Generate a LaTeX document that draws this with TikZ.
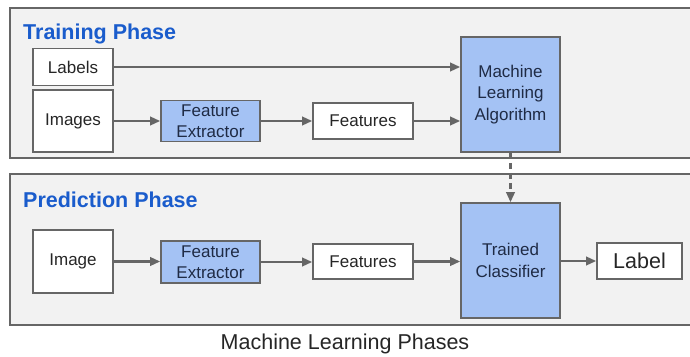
\documentclass[tikz,border=0pt]{standalone}
\usepackage{fontspec}
\setmainfont{Liberation Sans}
\usetikzlibrary{arrows.meta}
\definecolor{panelfill}{HTML}{F2F2F2}
\definecolor{edgegray}{HTML}{666666}
\definecolor{bluefill}{HTML}{A4C2F4}
\definecolor{titleblue}{HTML}{1A5CCC}
\definecolor{darktext}{HTML}{1F2B45}
\begin{document}
\begin{tikzpicture}[x=1pt,y=-1pt,
  panel/.style={draw=edgegray,fill=panelfill,line width=1.8pt},
  whitebox/.style={draw=edgegray,fill=white,line width=1.7pt,inner sep=0pt,
    font=\fontsize{17}{21.5}\selectfont,text=black!85,align=center},
  bluebox/.style={draw=edgegray,fill=bluefill,line width=1.7pt,inner sep=0pt,
    font=\fontsize{17}{21.5}\selectfont,text=darktext,align=center},
  flow/.style={draw=edgegray,line width=2.2pt,-{Triangle[length=10pt,width=8.5pt]}},
  title/.style={font=\fontsize{21.5}{25}\selectfont\bfseries,text=titleblue,anchor=west,inner sep=0pt}
]
\useasboundingbox (0,0) rectangle (690,356);
\begin{scope}
\clip (0,0) rectangle (690,356);
\draw[panel] (10,8) rectangle (700,158);
\draw[panel] (10,174) rectangle (700,325);
\end{scope}
\node[title] (ttrain) at (23,34) {Training Phase};
\node[title] (tpred) at (23,200) {Prediction Phase};

\node[whitebox,minimum width=80pt,minimum height=37pt] (labels) at (73,67) {Labels};
\node[whitebox,minimum width=80pt,minimum height=62pt] (images) at (73,121) {Images};
\node[bluebox,minimum width=99pt,minimum height=41pt] (fe1) at (210.5,121) {Feature\\Extractor};
\node[whitebox,minimum width=100pt,minimum height=36pt] (feat1) at (363,121) {Features};
\node[bluebox,minimum width=99pt,minimum height=115pt] (mla) at (510.5,94.5) {Machine\\Learning\\Algorithm};

\node[whitebox,minimum width=80pt,minimum height=63pt] (image) at (73,261.5) {Image};
\node[bluebox,minimum width=99pt,minimum height=42pt] (fe2) at (210.5,262) {Feature\\Extractor};
\node[whitebox,minimum width=100pt,minimum height=35pt] (feat2) at (363,261.5) {Features};
\node[bluebox,minimum width=99pt,minimum height=115pt] (tc) at (510.5,260.5) {Trained\\Classifier};
\node[whitebox,minimum width=85pt,minimum height=36pt,font=\fontsize{21.5}{24}\selectfont] (label) at (639.5,261) {Label};

\node[font=\fontsize{21.5}{25}\selectfont,text=black!85,inner sep=0pt] (caption) at (345,344) {Machine Learning Phases};

\draw[flow] (labels.east) -- (labels.east -| mla.west);
\draw[flow] (images.east) -- (fe1.west);
\draw[flow] (fe1.east) -- (feat1.west |- fe1.east);
\draw[flow] (feat1.east) -- (feat1.east -| mla.west);
\draw[flow,dash pattern=on 6pt off 4pt] (mla.south) -- (tc.north);

\draw[flow] (image.east) -- (fe2.west |- image.east);
\draw[flow] (fe2.east) -- (feat2.west |- fe2.east);
\draw[flow] (feat2.east) -- (feat2.east -| tc.west);
\draw[flow] (tc.east |- label.west) -- (label.west);
\end{tikzpicture}
\end{document}
